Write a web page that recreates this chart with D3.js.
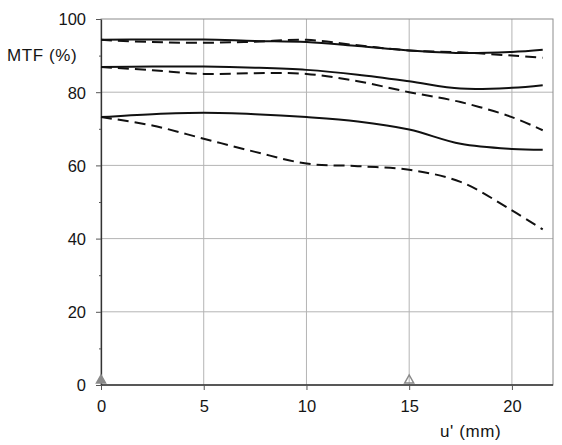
<!DOCTYPE html>
<meta charset="utf-8">
<style>
body { margin: 0; background: #fff; font-family: 'Liberation Sans', Arial, sans-serif; }
svg { display: block; }
.grid line { stroke: #b4b4b4; stroke-width: 1px; }
.axis text { font-size: 16.5px; fill: #151515; }
.axis path, .axis line { stroke: #555; }
path.curve { fill: none; stroke: #111; stroke-width: 2px; }
</style>
<body>
<svg width="562" height="445"></svg>
<script src="https://d3js.org/d3.v7.min.js"></script>
<script>

// field positions (mm)
var uPos = [0, 2.5, 5, 7.5, 10, 12.5, 15, 17.5, 20, 21.5];

// MTF values in %, three frequencies, solid = sagittal, dashed = tangential
var sagHigh = [94.3, 94.4, 94.4, 94.0, 93.7, 92.6, 91.4, 90.7, 91.0, 91.6];
var tanHigh = [94.3, 93.7, 93.5, 93.8, 94.3, 92.8, 91.4, 90.9, 90.0, 89.4];
var sagMid  = [86.9, 87.0, 87.0, 86.7, 86.1, 84.8, 83.0, 81.0, 81.2, 81.9];
var tanMid  = [86.9, 86.0, 85.0, 85.2, 85.0, 83.0, 80.0, 77.3, 73.2, 69.6];
var sagLow  = [73.2, 74.0, 74.4, 74.0, 73.2, 72.0, 69.8, 65.9, 64.5, 64.3];
var tanLow  = [73.2, 70.9, 67.3, 63.7, 60.5, 59.8, 58.8, 55.5, 47.7, 42.5];

var xTicks = [0, 5, 10, 15, 20];
var yTicks = [0, 20, 40, 60, 80, 100];
var yMinor = [10, 30, 50, 70, 90];

// markers along the axis: filled at centre, open at 15 mm
var markerU = [0, 15];
var markerFill = ["#8a8a8a", "none"];

var svg = d3.select("svg");

var x = d3.scaleLinear().domain([0, 22]).range([101, 553]);
var y = d3.scaleLinear().domain([0, 100]).range([385, 19]);

// grid
var grid = svg.append("g").attr("class", "grid");
grid.selectAll(".h").data(yTicks.slice(1, -1)).enter().append("line")
    .attr("x1", x(0)).attr("x2", x(22))
    .attr("y1", function(d) { return y(d); }).attr("y2", function(d) { return y(d); });
grid.selectAll(".v").data(xTicks.slice(1)).enter().append("line")
    .attr("y1", y(0)).attr("y2", y(100))
    .attr("x1", function(d) { return x(d); }).attr("x2", function(d) { return x(d); });

// box top/right
svg.append("rect")
    .attr("x", x(0)).attr("y", y(100))
    .attr("width", x(22) - x(0)).attr("height", y(0) - y(100))
    .attr("fill", "none").attr("stroke", "#8c8c8c");

// axes
svg.append("g").attr("class", "axis")
    .attr("transform", "translate(" + x(0) + ",0)")
    .call(d3.axisLeft(y).tickValues(yTicks).tickSize(5).tickPadding(10).tickSizeOuter(0))
    .call(function(g) { g.selectAll("text").attr("dy", "0.36em"); });

svg.append("g").attr("class", "axis minor")
    .attr("transform", "translate(" + x(0) + ",0)")
    .call(d3.axisLeft(y).tickValues(yMinor).tickSize(2).tickFormat("").tickSizeOuter(0))
    .call(function(g) { g.select(".domain").remove(); });

svg.append("g").attr("class", "axis")
    .attr("transform", "translate(0," + y(0) + ")")
    .call(d3.axisBottom(x).tickValues(xTicks).tickSize(5).tickPadding(10).tickSizeOuter(0))
    .call(function(g) { g.select(".domain").attr("d", "M" + x(0) + ",0H" + x(22)); });

svg.selectAll(".axis .domain").style("stroke", "#333").style("stroke-width", 1.3);

// curves
var line = d3.line()
    .x(function(d) { return x(d[0]); })
    .y(function(d) { return y(d[1]); })
    .curve(d3.curveCatmullRom.alpha(0.5));

var series = [
    {v: sagHigh, dash: null}, {v: tanHigh, dash: "11,6"},
    {v: sagMid, dash: null},  {v: tanMid, dash: "11,6"},
    {v: sagLow, dash: null},  {v: tanLow, dash: "11,6"}
];

svg.selectAll("path.curve").data(series).enter().append("path")
    .attr("class", "curve")
    .attr("stroke-dasharray", function(d) { return d.dash; })
    .attr("d", function(d) { return line(d3.zip(uPos, d.v)); });

// triangle markers
svg.selectAll(".marker").data(markerU).enter().append("path")
    .attr("class", "marker")
    .attr("d", function(d) {
        var cx = x(d), by = y(0) - 2;
        return "M" + (cx - 4.5) + "," + by + "L" + (cx + 4.5) + "," + by + "L" + cx + "," + (by - 8) + "Z";
    })
    .attr("fill", function(d, i) { return markerFill[i]; })
    .attr("stroke", "#8a8a8a")
    .attr("stroke-width", 1.5);

// labels
svg.append("text").attr("x", 7).attr("y", 61)
    .style("font-size", "17px").style("letter-spacing", "0.6px")
    .style("fill", "#151515").text("MTF (%)");
svg.append("text").attr("x", 440).attr("y", 437)
    .style("font-size", "17px").style("letter-spacing", "0.6px")
    .style("fill", "#151515").text("u' (mm)");

</script>
</body>
